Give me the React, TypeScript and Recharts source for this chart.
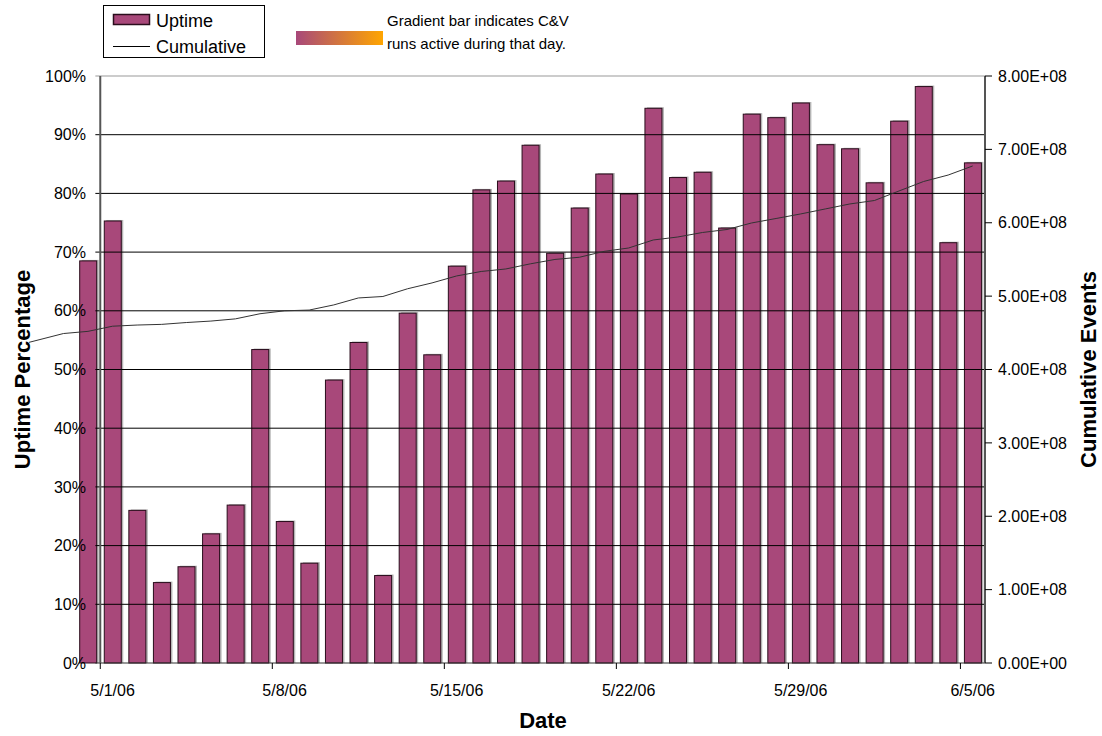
import React from "react";
import { ComposedChart, Bar, Line, XAxis, YAxis, ReferenceLine, Label } from "recharts";

const FONT = "'Liberation Sans', Arial, sans-serif";
const BAR_FILL = "#A8487A";

const dates = [
  "4/30/06", "5/1/06", "5/2/06", "5/3/06", "5/4/06", "5/5/06", "5/6/06", "5/7/06",
  "5/8/06", "5/9/06", "5/10/06", "5/11/06", "5/12/06", "5/13/06", "5/14/06", "5/15/06",
  "5/16/06", "5/17/06", "5/18/06", "5/19/06", "5/20/06", "5/21/06", "5/22/06", "5/23/06",
  "5/24/06", "5/25/06", "5/26/06", "5/27/06", "5/28/06", "5/29/06", "5/30/06", "5/31/06",
  "6/1/06", "6/2/06", "6/3/06", "6/4/06", "6/5/06",
];
const uptime = [
  68.5, 75.3, 26, 13.7, 16.4, 22, 26.9, 53.4, 24.1, 17,
  48.2, 54.6, 14.9, 59.6, 52.5, 67.6, 80.6, 82.1, 88.2, 69.8,
  77.5, 83.3, 79.9, 94.5, 82.7, 83.6, 74.1, 93.5, 92.9, 95.4,
  88.3, 87.6, 81.8, 92.3, 98.2, 71.6, 85.2,
];
const cumulative = [
  452e6, 459e6, 460.6e6, 461.5e6, 464e6, 466e6, 469e6, 476e6, 480e6, 481e6,
  488e6, 497.5e6, 499.5e6, 510e6, 518e6, 527.5e6, 533.6e6, 537e6, 544e6, 550e6,
  553e6, 561e6, 565.6e6, 576.5e6, 580.6e6, 586.7e6, 590.8e6, 599.7e6, 605.8e6, 612e6,
  618.8e6, 625.6e6, 630.3e6, 643.3e6, 656.2e6, 665e6, 677.4e6,
];
// the cumulative trace starts a little before the first bar
const leadDays = [-2.4, -1];
const leadCumulative = [437e6, 449e6];

const dateTicks = ["5/1/06", "5/8/06", "5/15/06", "5/22/06", "5/29/06", "6/5/06"];
const pctTicks = [0, 10, 20, 30, 40, 50, 60, 70, 80, 90, 100];
const gridPcts = [0, 10, 20, 30, 40, 50, 60, 70, 80, 90];
const cumTicks = [0, 1e8, 2e8, 3e8, 4e8, 5e8, 6e8, 7e8, 8e8];

const rows = [
  ...leadDays.map((day, i) => ({ day, cumulative: leadCumulative[i] })),
  ...dates.map((date, i) => ({ day: i, date, uptime: uptime[i], cumulative: cumulative[i] })),
];

const W = 1102;
const H = 736;
const X_MIN = -2.4;
const X_MAX = dates.length - 0.5;
const AXIS_X = 0.5; // left value axis sits between 4/30 and 5/1
const TICK_X = 0.3;

const sci = (v: number) => {
  if (v === 0) return "0.00E+00";
  const exp = Math.floor(Math.log10(v));
  return `${(v / Math.pow(10, exp)).toFixed(2)}E+${String(exp).padStart(2, "0")}`;
};

const ShadowBar = (props: any) => {
  const { x, y, width, height } = props;
  if (!height || height <= 0) return null;
  return (
    <g>
      <rect x={x + 2} y={y - 1} width={width} height={height + 1} fill="#b5b5b5" />
      <rect x={x} y={y} width={width} height={height} fill={BAR_FILL} stroke="#2a0d1c" strokeWidth={1} />
    </g>
  );
};

const tickStyle = { fontSize: 16, fill: "#000", fontFamily: FONT };
const titleStyle = { fontSize: 22, fontWeight: 700, fill: "#000", fontFamily: FONT };

export default function App() {
  return (
    <div style={{ position: "absolute", left: 0, top: 0, width: W, height: H, fontFamily: FONT, overflow: "hidden" }}>
      <ComposedChart width={W} height={H} data={rows} margin={{ top: 76, right: 0, bottom: 0, left: 0 }}>
        <XAxis
          dataKey="day"
          type="number"
          domain={[X_MIN, X_MAX]}
          ticks={dateTicks.map((d) => dates.indexOf(d) - 0.5)}
          tickFormatter={(v: number) => dates[Math.round(v + 0.5)]}
          interval={0}
          height={73}
          axisLine={false}
          tickLine={{ stroke: "#000" }}
          tickSize={6}
          tickMargin={16}
          tick={{ ...tickStyle, dx: 12.3 }}
        >
          <Label value="Date" position="insideBottom" offset={8} dx={36} style={titleStyle} />
        </XAxis>
        <YAxis
          yAxisId="pct"
          orientation="left"
          width={29}
          domain={[0, 100]}
          ticks={pctTicks}
          interval={0}
          tickFormatter={(v: number) => `${v}%`}
          axisLine={false}
          tickLine={false}
          tickSize={0}
          tickMargin={0}
          tick={{ ...tickStyle, dx: 57 }}
        >
          <Label value="Uptime Percentage" angle={-90} position="center" dx={8} style={titleStyle} />
        </YAxis>
        <YAxis
          yAxisId="cum"
          orientation="right"
          width={117}
          domain={[0, 8e8]}
          ticks={cumTicks}
          interval={0}
          tickFormatter={sci}
          axisLine={{ stroke: "#555", strokeWidth: 2 }}
          tickLine={{ stroke: "#000" }}
          tickSize={7}
          tickMargin={6}
          tick={tickStyle}
        >
          <Label value="Cumulative Events" angle={-90} position="center" dx={45} style={titleStyle} />
        </YAxis>

        {gridPcts.map((p) => (
          <ReferenceLine
            key={p}
            yAxisId="pct"
            segment={[{ x: TICK_X, y: p }, { x: X_MAX, y: p }]}
            stroke={p === 0 ? "#333" : "#000"}
            strokeWidth={1}
            ifOverflow="visible"
          />
        ))}
        <ReferenceLine
          yAxisId="pct"
          segment={[{ x: TICK_X, y: 100 }, { x: X_MAX, y: 100 }]}
          stroke="#999"
          strokeWidth={1}
          ifOverflow="visible"
        />
        <ReferenceLine yAxisId="pct" x={AXIS_X} stroke="#555" strokeWidth={2} ifOverflow="visible" />

        <Bar
          yAxisId="pct"
          dataKey="uptime"
          name="Uptime"
          barSize={17}
          shape={ShadowBar}
          isAnimationActive={false}
        />
        <Line
          yAxisId="cum"
          dataKey="cumulative"
          name="Cumulative"
          type="linear"
          stroke="#333"
          strokeWidth={1}
          dot={false}
          activeDot={false}
          isAnimationActive={false}
        />
      </ComposedChart>

      <svg
        width={700}
        height={70}
        style={{ position: "absolute", left: 0, top: 0 }}
        fontFamily={FONT}
      >
        <defs>
          <linearGradient id="cvGrad" x1="0" x2="1" y1="0" y2="0">
            <stop offset="0%" stopColor={BAR_FILL} />
            <stop offset="100%" stopColor="#FFA500" />
          </linearGradient>
        </defs>
        <rect x={103.5} y={5.5} width={161} height={52} fill="#fff" stroke="#000" strokeWidth={1} />
        <rect x={113.5} y={14.5} width={36} height={10} fill={BAR_FILL} stroke="#2a0d1c" strokeWidth={1.5} />
        <text x={156} y={27} fontSize={18} fill="#000">Uptime</text>
        <line x1={113} x2={150} y1={46.5} y2={46.5} stroke="#000" strokeWidth={1} />
        <text x={156} y={53} fontSize={18} fill="#000">Cumulative</text>
        <rect x={296} y={31} width={87} height={14} fill="url(#cvGrad)" />
        <text x={387} y={26} fontSize={15} fill="#000">Gradient bar indicates C&amp;V</text>
        <text x={387} y={49} fontSize={15} fill="#000">runs active during that day.</text>
      </svg>
    </div>
  );
}
